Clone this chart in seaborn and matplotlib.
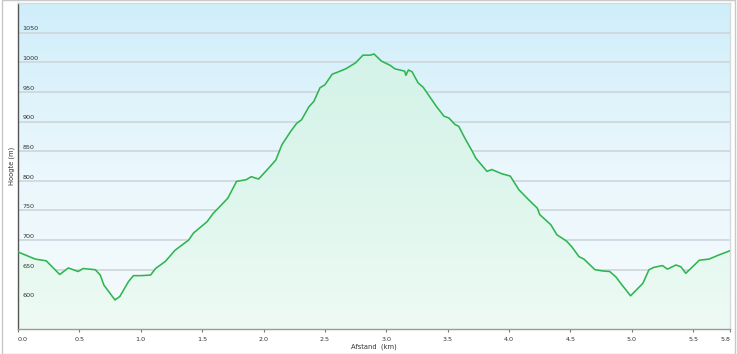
import numpy as np
import pandas as pd
import matplotlib
matplotlib.use("Agg")
import matplotlib.pyplot as plt
from matplotlib.colors import LinearSegmentedColormap
from matplotlib.patches import Rectangle
import seaborn as sns

# ---- data ----
dist_km = [0.00, 0.14, 0.23, 0.34, 0.41, 0.49, 0.53, 0.63, 0.67, 0.70,
           0.79, 0.83, 0.90, 0.94, 1.00, 1.08, 1.12, 1.20, 1.28, 1.39,
           1.43, 1.54, 1.59, 1.66, 1.71, 1.78, 1.86, 1.90, 1.96, 2.04,
           2.10, 2.15, 2.22, 2.27, 2.31, 2.37, 2.41, 2.46, 2.50, 2.56,
           2.60, 2.67, 2.75, 2.81, 2.87, 2.90, 2.96, 3.03, 3.07, 3.15,
           3.16, 3.18, 3.21, 3.26, 3.30, 3.36, 3.41, 3.47, 3.51, 3.56,
           3.59, 3.64, 3.70, 3.73, 3.82, 3.86, 3.94, 4.01, 4.08, 4.16,
           4.23, 4.25, 4.34, 4.39, 4.47, 4.51, 4.57, 4.61, 4.70, 4.76,
           4.82, 4.87, 4.91, 4.99, 5.09, 5.14, 5.18, 5.25, 5.29, 5.36,
           5.40, 5.44, 5.48, 5.55, 5.63, 5.71, 5.80]
elev_m = [680, 668, 665, 642, 653, 647, 652, 650, 641, 624,
          599, 605, 630, 640, 640, 641, 652, 664, 683, 700,
          712, 731, 745, 760, 771, 799, 802, 807, 803, 821,
          835, 861, 883, 897, 903, 925, 934, 957, 962, 980,
          983, 989, 999, 1012, 1012, 1014, 1002, 995, 989, 985,
          978, 987, 984, 965, 958, 940, 925, 909, 906, 895,
          892, 872, 850, 838, 816, 819, 812, 808, 785, 768,
          754, 743, 726, 709, 698, 689, 672, 668, 650, 648,
          647, 638, 627, 606, 627, 650, 654, 657, 651, 658,
          655, 644, 652, 666, 668, 675, 682]
x_ticks = [0.0, 0.5, 1.0, 1.5, 2.0, 2.5, 3.0, 3.5, 4.0, 4.5, 5.0, 5.5, 5.8]
x_tick_labels = ["0.0", "0.5", "1.0", "1.5", "2.0", "2.5", "3.0", "3.5",
                 "4.0", "4.5", "5.0", "5.5", "5.8"]
y_ticks = [600, 650, 700, 750, 800, 850, 900, 950, 1000, 1050]
y_tick_labels = ["600", "650", "700", "750", "800", "850", "900", "950",
                 "1000", "1050"]
x_label = "Afstand  (km)"
y_label = "Hoogte (m)"

df = pd.DataFrame({"dist": dist_km, "elev": elev_m})

sns.set_style("white")
plt.rcParams["font.family"] = ["DejaVu Sans"]

W, H = 737, 354
fig = plt.figure(figsize=(W / 100, H / 100), dpi=100)
fig.patch.set_facecolor("white")

L, R, B, T = 18, 730, 329, 3
ax = fig.add_axes([L / W, (H - B) / H, (R - L) / W, (B - T) / H])

XMIN, XMAX, YMIN, YMAX = 0, 5.8, 550, 1100
ax.set_xlim(XMIN, XMAX)
ax.set_ylim(YMIN, YMAX)

# background gradient
bg = LinearSegmentedColormap.from_list("bg", ["#f6fbfd", "#eaf7fc", "#cfeefa"])
grad = np.linspace(0, 1, 256).reshape(-1, 1)
ax.imshow(grad, cmap=bg, extent=[XMIN, XMAX, YMIN, YMAX], origin="lower",
          aspect="auto", zorder=0)

# gridlines
for v in y_ticks:
    ax.axhline(v, color="#cdd6da", lw=1.2, zorder=1)

# area fill with gradient clipped to the profile
poly = ax.fill_between(df["dist"], df["elev"], YMIN, color="none", lw=0, zorder=2)
fillmap = LinearSegmentedColormap.from_list("fill", ["#eefbf4", "#def6ed", "#d4f3e8"])
im = ax.imshow(grad, cmap=fillmap, extent=[XMIN, XMAX, YMIN, 1020], origin="lower",
               aspect="auto", zorder=2)
path = poly.get_paths()[0]
im.set_clip_path(path, transform=ax.transData)

# profile line
sns.lineplot(data=df, x="dist", y="elev", ax=ax, color="#2fb550", lw=1.15,
             zorder=3, estimator=None, sort=False)

# axes styling
for s in ["top", "right"]:
    ax.spines[s].set_color("#d6dadc")
    ax.spines[s].set_linewidth(1.0)
ax.spines["left"].set_color("#555555")
ax.spines["left"].set_linewidth(1.0)
ax.spines["bottom"].set_color("#9a9a9a")
ax.spines["bottom"].set_linewidth(1.0)

ax.set_yticks([])
ax.set_xticks(x_ticks)
ax.set_xticklabels(x_tick_labels, fontsize=4.6, color="#333333")
ax.tick_params(axis="x", length=2.5, width=0.8, color="#777777", pad=3, bottom=True)
labs = ax.get_xticklabels()
labs[0].set_ha("left")
labs[-1].set_ha("right")

for v, t in zip(y_ticks, y_tick_labels):
    ax.text(0.006, v + 2, t, transform=ax.get_yaxis_transform(), fontsize=4.6,
            color="#333333", ha="left", va="bottom", zorder=4)

ax.set_xlabel(x_label, fontsize=4.9, color="#333333", labelpad=1.5)
ax.set_ylabel(y_label, fontsize=4.9, color="#333333", labelpad=2)

# outer figure frame
fig.patches.append(Rectangle((2 / W, 0), (735 - 2) / W, 1, transform=fig.transFigure,
                             fill=False, ec="#c8c8c8", lw=1.0))

fig.savefig("out.png", dpi=100)
